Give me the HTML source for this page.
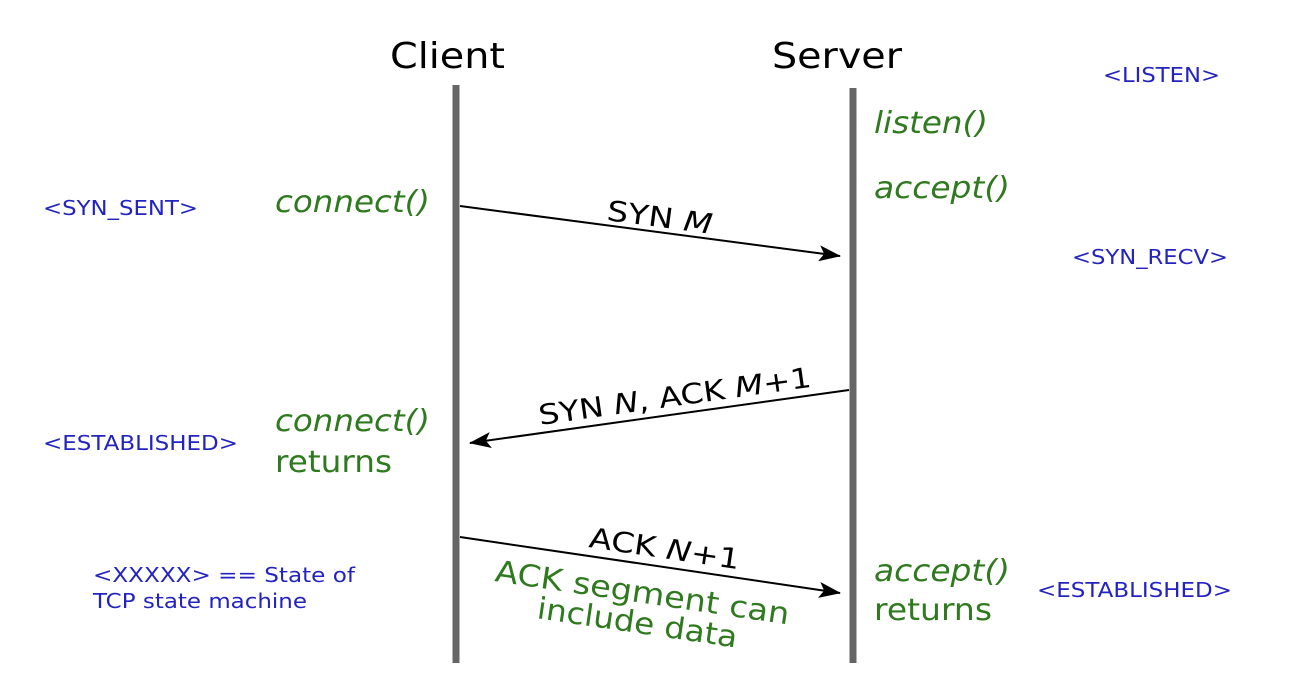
<!DOCTYPE html>
<html><head><meta charset="utf-8"><style>
html,body{margin:0;padding:0;background:#fff;}
svg{display:block;font-family:"DejaVu Sans","Liberation Sans",sans-serif;}
.b{fill:#2323c0;font-size:20px;}
.g{fill:#2f7a1f;font-size:30px;}
.i{font-style:italic;}
.k{fill:#000;font-size:28px;}
</style></head><body>
<svg width="1314" height="682" viewBox="0 0 1314 682" xmlns="http://www.w3.org/2000/svg">
<defs><marker id="a" markerWidth="22" markerHeight="16" refX="21" refY="8" orient="auto" markerUnits="userSpaceOnUse"><path d="M0,0 L22,8 L0,16 L5,8 Z" fill="#000"/></marker></defs>
<text x="390" y="68" font-size="36" fill="#000" textLength="115" lengthAdjust="spacingAndGlyphs">Client</text>
<text x="772" y="68" font-size="36" fill="#000" textLength="130" lengthAdjust="spacingAndGlyphs">Server</text>
<rect x="452.5" y="85" width="7" height="578" fill="#666"/>
<rect x="849.5" y="88" width="7" height="575" fill="#666"/>
<text class="b" x="1103" y="82" textLength="117" lengthAdjust="spacingAndGlyphs">&lt;LISTEN&gt;</text>
<text class="g i" x="874" y="133" textLength="114" lengthAdjust="spacingAndGlyphs">listen()</text>
<text class="g i" x="874" y="198" textLength="136" lengthAdjust="spacingAndGlyphs">accept()</text>
<text class="b" x="43" y="215" textLength="155" lengthAdjust="spacingAndGlyphs">&lt;SYN_SENT&gt;</text>
<text class="g i" x="275" y="212" textLength="155" lengthAdjust="spacingAndGlyphs">connect()</text>
<text class="b" x="1072" y="264" textLength="156" lengthAdjust="spacingAndGlyphs">&lt;SYN_RECV&gt;</text>
<line x1="460" y1="206" x2="840" y2="256" stroke="#000" stroke-width="2" marker-end="url(#a)"/>
<text class="k" transform="translate(606,220) rotate(7.5)" textLength="106" lengthAdjust="spacingAndGlyphs">SYN <tspan font-style="italic">M</tspan></text>
<line x1="849" y1="390" x2="470" y2="443" stroke="#000" stroke-width="2" marker-end="url(#a)"/>
<text class="k" transform="translate(540,425) rotate(-8)" textLength="275" lengthAdjust="spacingAndGlyphs">SYN <tspan font-style="italic">N</tspan>, ACK <tspan font-style="italic">M</tspan>+1</text>
<text class="b" x="43" y="450" textLength="195" lengthAdjust="spacingAndGlyphs">&lt;ESTABLISHED&gt;</text>
<text class="g i" x="275" y="431" textLength="155" lengthAdjust="spacingAndGlyphs">connect()</text>
<text class="g" x="275" y="472" textLength="117" lengthAdjust="spacingAndGlyphs">returns</text>
<line x1="460" y1="537" x2="840" y2="593" stroke="#000" stroke-width="2" marker-end="url(#a)"/>
<text class="k" transform="translate(588,547) rotate(8.4)" textLength="152" lengthAdjust="spacingAndGlyphs">ACK <tspan font-style="italic">N</tspan>+1</text>
<text class="g" transform="translate(494,581) rotate(8.4)" textLength="297" lengthAdjust="spacingAndGlyphs">ACK segment can</text>
<text class="g" transform="translate(536,618) rotate(8.4)" textLength="202" lengthAdjust="spacingAndGlyphs">include data</text>
<text class="b" x="93" y="582" textLength="262" lengthAdjust="spacingAndGlyphs">&lt;XXXXX&gt; == State of</text>
<text class="b" x="93" y="608" textLength="214" lengthAdjust="spacingAndGlyphs">TCP state machine</text>
<text class="g i" x="874" y="581" textLength="136" lengthAdjust="spacingAndGlyphs">accept()</text>
<text class="g" x="874" y="620" textLength="118" lengthAdjust="spacingAndGlyphs">returns</text>
<text class="b" x="1037" y="597" textLength="195" lengthAdjust="spacingAndGlyphs">&lt;ESTABLISHED&gt;</text>
</svg>
</body></html>
